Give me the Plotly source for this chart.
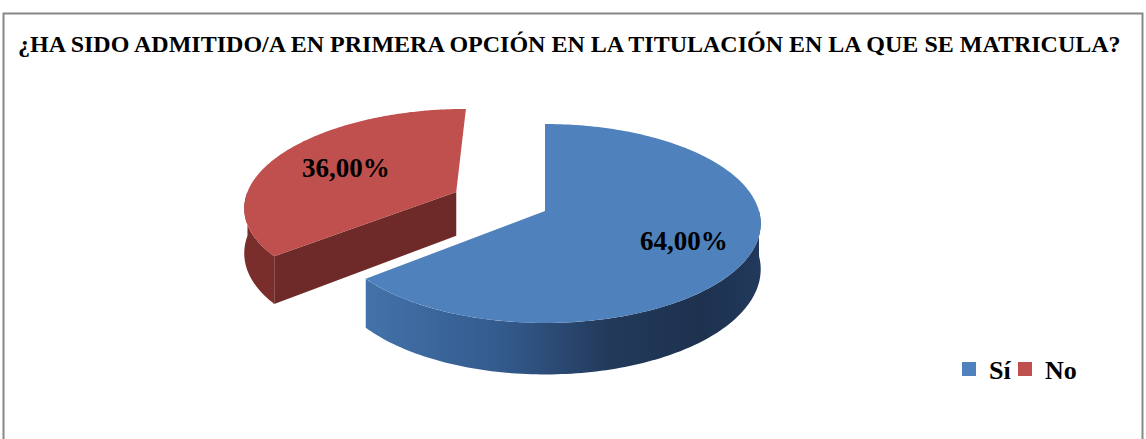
import numpy as np
import plotly.graph_objects as go

# ---- data ----
categories = ["Sí", "No"]
values = [64.0, 36.0]
title_text = "¿HA SIDO ADMITIDO/A EN PRIMERA OPCIÓN EN LA TITULACIÓN EN LA QUE SE MATRICULA?"

# ---- styles / geometry (pixel space of the 1146x439 page) ----
W, H = 1146, 439
CX, CY = 545, 211          # centre of the pie's top face
RX, RY = 214, 97.9         # projected radii
K = 0.1256                 # perspective factor
DEPTH = 45                 # thickness
EXPLODE = [0.0, 0.47]
LABEL_R = [0.69, 0.62]
top_colors = ["#4F81BD", "#C0504D"]
side_colors = ["#2E5181", "#7A2E2C"]
cut_colors = ["#22385A", "#6E2A29"]
blue_side_gradient = [[0, "#4372AA"], [0.35, "#335A8C"], [0.62, "#22395A"], [0.85, "#1E324F"], [1, "#22395C"]]
FONT = "Liberation Serif"
legend_x = [949, 1005]     # left pixel of each legend entry


def proj(X, Z, drop=0.0):
    den = 1 + K * Z
    return CX + X * RX / den, CY - Z * RY / den + drop * DEPTH / den


total = sum(values)
fracs = [v / total for v in values]
starts = np.cumsum([0] + fracs[:-1]) * 2 * np.pi
ends = np.cumsum(fracs) * 2 * np.pi
mids = (starts + ends) / 2

fig = go.Figure()

order = sorted(range(len(values)), key=lambda i: -np.cos(mids[i]))
for i in order:
    a0, a1, m = starts[i], ends[i], mids[i]
    ox, oz = EXPLODE[i] * np.sin(m), EXPLODE[i] * np.cos(m)

    def pt(a, r=1.0, drop=0.0):
        return proj(ox + r * np.sin(a), oz + r * np.cos(a), drop)

    # radial cut faces facing the viewer
    for a, vis in ((a0, np.sin(a0) < -1e-6), (a1, np.sin(a1) > 1e-6)):
        if vis:
            p = [pt(a, 0), pt(a, 1), pt(a, 1, 1), pt(a, 0, 1)]
            fig.add_trace(go.Scatter(
                x=[q[0] for q in p], y=[q[1] for q in p], fill="toself", mode="none",
                fillcolor=cut_colors[i], showlegend=False, hoverinfo="skip"))

    # outer wall (front half only)
    s, e = max(a0, np.pi / 2), min(a1, 3 * np.pi / 2)
    if e > s:
        ang = np.linspace(s, e, 120)
        topx, topy = zip(*[pt(a) for a in ang])
        botx, boty = zip(*[pt(a, 1, 1) for a in ang[::-1]])
        kw = dict(fillcolor=side_colors[i])
        if i == 0:
            kw = dict(fillgradient=dict(type="horizontal", colorscale=blue_side_gradient))
        fig.add_trace(go.Scatter(
            x=list(topx) + list(botx), y=list(topy) + list(boty), fill="toself", mode="none",
            showlegend=False, hoverinfo="skip", **kw))

    # top face
    ang = np.linspace(a0, a1, 200)
    p = [pt(0, 0)] + [pt(a) for a in ang] + [pt(0, 0)]
    fig.add_trace(go.Scatter(
        x=[q[0] for q in p], y=[q[1] for q in p], fill="toself", mode="none",
        fillcolor=top_colors[i], showlegend=False, name=categories[i],
        hovertemplate=f"{categories[i]}: {values[i]:.2f}%<extra></extra>"))

    # data label
    lx, ly = pt(m, LABEL_R[i])
    fig.add_annotation(x=lx, y=ly, text=f"<b>{values[i]:.2f}%</b>".replace(".", ","),
                       showarrow=False, font=dict(family=FONT, size=27, color="black"))

# legend entries (one legend per entry, to control spacing)
legend_layouts = {}
for i, c in enumerate(categories):
    lg = "legend" if i == 0 else f"legend{i + 1}"
    fig.add_trace(go.Scatter(x=[None], y=[None], mode="markers", name=f"<b>{c}</b>",
                             legend=lg,
                             marker=dict(symbol="square", size=14, color=top_colors[i])))
    legend_layouts[lg] = dict(x=legend_x[i] / W, y=1 - 369 / H, xanchor="left", yanchor="middle",
                              font=dict(family=FONT, size=26, color="black"),
                              bgcolor="rgba(0,0,0,0)", itemwidth=30)

fig.update_layout(
    width=W, height=H,
    margin=dict(l=0, r=0, t=0, b=0),
    paper_bgcolor="white", plot_bgcolor="white",
    xaxis=dict(range=[0, W], visible=False, fixedrange=True),
    yaxis=dict(range=[H, 0], visible=False, fixedrange=True),
    title=dict(text=f"<b>{title_text}</b>", x=18 / W, xanchor="left", xref="paper",
               y=1 - 44 / H, yanchor="middle", yref="container",
               font=dict(family=FONT, size=24, color="black")),
    shapes=[dict(type="rect", xref="paper", yref="paper", x0=3.5 / W, x1=1142.5 / W,
                 y0=-0.2, y1=1 - 13.5 / H, line=dict(color="#878787", width=2),
                 fillcolor="rgba(0,0,0,0)", layer="below")],
    **legend_layouts,
)

fig.write_html("out.html", config={"displayModeBar": False},
               post_script="document.body.style.margin='0';")
